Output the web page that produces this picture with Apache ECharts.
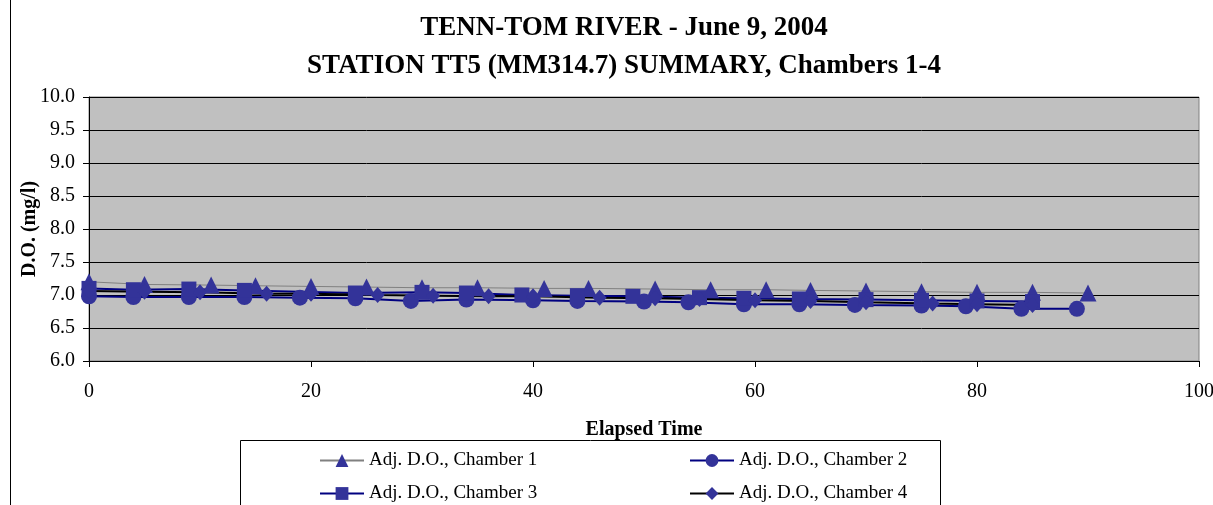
<!DOCTYPE html>
<html>
	<head>
		<meta charset="utf-8">
		<title></title>
		<script src="https://cdn.jsdelivr.net/npm/echarts@6/dist/echarts.min.js"></script>
		<style>
			html, body {
				margin: 0;
				padding: 0;
				background: #ffffff;
			}
			#main {
				width: 1213px;
				height: 505px;
			}
		</style>
	</head>
	<body>
		<div id="main"></div>
	</body>
	<script>
		// elapsed time and adjusted D.O. per chamber
		var time1 = [0, 5, 11, 15, 20, 25, 30, 35, 41, 45, 51, 56, 61, 65, 70, 75, 80, 85, 90];
		var chamber1 = [7.20, 7.16, 7.15, 7.14, 7.13, 7.12, 7.11, 7.11, 7.10, 7.10, 7.09, 7.08, 7.08, 7.07, 7.06, 7.05, 7.04, 7.04, 7.03];
		var time2 = [0, 4, 9, 14, 19, 24, 29, 34, 40, 44, 50, 54, 59, 64, 69, 75, 79, 84, 89];
		var chamber2 = [6.98, 6.97, 6.97, 6.97, 6.96, 6.95, 6.91, 6.93, 6.92, 6.91, 6.90, 6.89, 6.86, 6.86, 6.85, 6.84, 6.83, 6.79, 6.79];
		var time3 = [0, 4, 9, 14, 24, 30, 34, 39, 44, 49, 55, 59, 64, 70, 75, 80, 85];
		var chamber3 = [7.10, 7.08, 7.09, 7.07, 7.03, 7.04, 7.03, 7.00, 6.99, 6.98, 6.96, 6.95, 6.94, 6.93, 6.92, 6.91, 6.90];
		var time4 = [0, 5, 10, 16, 20, 26, 31, 36, 40, 46, 51, 55, 60, 65, 70, 76, 80, 85];
		var chamber4 = [7.06, 7.05, 7.04, 7.02, 7.02, 7.00, 6.99, 6.98, 6.98, 6.96, 6.95, 6.94, 6.92, 6.91, 6.89, 6.87, 6.86, 6.85];
		var names = ["Adj. D.O., Chamber 1", "Adj. D.O., Chamber 2", "Adj. D.O., Chamber 3", "Adj. D.O., Chamber 4"];

		function pairs(xs, ys) {
			var out = [];
			for (var i = 0; i < xs.length; i++) {
				out.push([xs[i], ys[i]]);
			}
			return out;
		}

		var font = "'Liberation Serif', 'Times New Roman', serif";
		var markerColor = "#333399";

		function legendAt(name, left, top) {
			return {
				data: [name],
				left: left,
				top: top,
				itemWidth: 44,
				itemHeight: 16,
				itemGap: 4,
				textStyle: { fontFamily: font, fontSize: 19, color: "#000" }
			};
		}

		var option = {
			animation: false,
			backgroundColor: "#ffffff",
			title: {
				text: "TENN-TOM RIVER - June 9, 2004\nSTATION TT5 (MM314.7) SUMMARY, Chambers 1-4",
				left: 619,
				textAlign: "center",
				top: 4,
				textStyle: {
					fontFamily: font,
					fontSize: 27,
					fontWeight: "bold",
					color: "#000",
					lineHeight: 38
				}
			},
			graphic: [
				{
					type: "rect",
					shape: { x: 10.5, y: -2, width: 1230, height: 540 },
					style: { fill: "none", stroke: "#000", lineWidth: 1 },
					silent: true
				},
				{
					type: "rect",
					shape: { x: 240.5, y: 440.5, width: 700, height: 100 },
					style: { fill: "#fff", stroke: "#000", lineWidth: 1 },
					silent: true,
					z: -1
				}
			],
			legend: [
				legendAt(names[0], 314, 446),
				legendAt(names[1], 684, 446),
				legendAt(names[2], 314, 479),
				legendAt(names[3], 684, 479)
			],
			grid: {
				left: 89,
				right: 14,
				top: 97,
				bottom: 144,
				outerBoundsMode: "none",
				show: true,
				backgroundColor: "#c0c0c0",
				borderColor: "#808080",
				borderWidth: 1
			},
			xAxis: {
				type: "value",
				min: 0,
				max: 100,
				interval: 20,
				name: "Elapsed Time",
				nameLocation: "middle",
				nameGap: 59,
				nameTextStyle: { fontFamily: font, fontSize: 20, fontWeight: "bold", color: "#000" },
				axisLine: { show: true, lineStyle: { color: "#000" } },
				axisTick: { show: true, inside: false, length: 6, lineStyle: { color: "#000" } },
				axisLabel: { fontFamily: font, fontSize: 20, color: "#000", margin: 21 },
				splitLine: { show: false }
			},
			yAxis: {
				type: "value",
				min: 6.0,
				max: 10.0,
				interval: 0.5,
				name: "D.O. (mg/l)",
				nameLocation: "middle",
				nameGap: 49,
				nameMoveOverlap: false,
				nameTextStyle: { fontFamily: font, fontSize: 20, fontWeight: "bold", color: "#000" },
				axisLine: { show: true, lineStyle: { color: "#000" } },
				axisTick: { show: true, inside: false, length: 6, lineStyle: { color: "#000" } },
				axisLabel: {
					fontFamily: font,
					fontSize: 20,
					color: "#000",
					margin: 14,
					formatter: function (v) { return v.toFixed(1); }
				},
				splitLine: { show: true, lineStyle: { color: "#000", width: 1 } }
			},
			series: [
				{
					name: names[0],
					type: "line",
					data: pairs(time1, chamber1),
					symbol: "triangle",
					symbolSize: 17,
					lineStyle: { color: "#808080", width: 1 },
					itemStyle: { color: markerColor, borderWidth: 0 }
				},
				{
					name: names[1],
					type: "line",
					data: pairs(time2, chamber2),
					symbol: "circle",
					symbolSize: 16,
					lineStyle: { color: "#000080", width: 2 },
					itemStyle: { color: markerColor, borderWidth: 0 }
				},
				{
					name: names[2],
					type: "line",
					data: pairs(time3, chamber3),
					symbol: "rect",
					symbolSize: 15,
					lineStyle: { color: "#000080", width: 2 },
					itemStyle: { color: markerColor, borderWidth: 0 }
				},
				{
					name: names[3],
					type: "line",
					data: pairs(time4, chamber4),
					symbol: "diamond",
					symbolSize: [14, 16],
					lineStyle: { color: "#000000", width: 2 },
					itemStyle: { color: markerColor, borderWidth: 0 }
				}
			]
		};

		var chart = echarts.init(document.getElementById("main"));
		chart.setOption(option);
	</script>
</html>
